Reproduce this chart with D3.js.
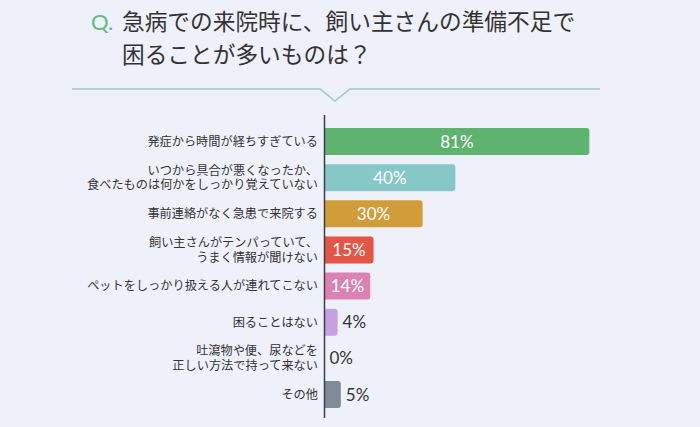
<!DOCTYPE html>
<html><head><meta charset="utf-8">
<script src="https://cdn.jsdelivr.net/npm/d3@7"></script>
<style>
html,body{margin:0;padding:0;background:#eef1f9;}
svg{display:block;}
</style></head>
<body>
<svg id="c" width="700" height="427"></svg>
<script>
const titleLines = ["急病での来院時に、飼い主さんの準備不足で", "困ることが多いものは？"];
const categories = [
  ["発症から時間が経ちすぎている"],
  ["いつから具合が悪くなったか、", "食べたものは何かをしっかり覚えていない"],
  ["事前連絡がなく急患で来院する"],
  ["飼い主さんがテンパっていて、", "うまく情報が聞けない"],
  ["ペットをしっかり扱える人が連れてこない"],
  ["困ることはない"],
  ["吐瀉物や便、尿などを", "正しい方法で持って来ない"],
  ["その他"]
];
const values = [81, 40, 30, 15, 14, 4, 0, 5];
const colors = ["#5eb46f", "#86c7c7", "#d19d3a", "#e35645", "#dc82b2", "#c6a0e1", "#7f8b97", "#7f8b97"];

const svg = d3.select("#c");
const font = "'Noto Sans CJK JP', 'Noto Sans', sans-serif";

// Title
svg.append("text").attr("x", 91).attr("y", 30).attr("font-family", "Lato, sans-serif")
  .attr("font-size", 22).attr("fill", "#62b883").text("Q.");
const title = svg.append("text").attr("x", 122).attr("y", 30).attr("font-family", font)
  .attr("font-size", 22.7).attr("fill", "#333");
titleLines.forEach((t, i) => {
  title.append("tspan").attr("x", 122).attr("y", 30 + i * 33).text(t);
});
// Divider with notch
svg.append("path")
  .attr("d", "M72,89 L320,89 L335,101 L350,89 L600,89")
  .attr("fill", "none").attr("stroke", "#9ccbb6").attr("stroke-width", 1.5);

const x0 = 324.5;
const x = d3.scaleLinear().domain([0, 100]).range([x0, x0 + 327]);
const y = d3.scaleBand().domain(d3.range(categories.length)).range([120.8, 415.2]).paddingInner(0.253).paddingOuter(0.2);

const g = svg.append("g");
const r = 3;
values.forEach((v, i) => {
  const w = x(v) - x0;
  const y0 = y(i), h = y.bandwidth();
  if (w > 0) {
    const rr = Math.min(r, w);
    g.append("path")
      .attr("d", `M${x0},${y0} H${x0 + w - rr} Q${x0 + w},${y0} ${x0 + w},${y0 + rr} V${y0 + h - rr} Q${x0 + w},${y0 + h} ${x0 + w - rr},${y0 + h} H${x0} Z`)
      .attr("fill", colors[i]);
  }
  const inside = v >= 10;
  g.append("text")
    .attr("x", inside ? x0 + w / 2 : x(v) + 5)
    .attr("y", y0 + h / 2)
    .attr("dy", "0.36em")
    .attr("text-anchor", inside ? "middle" : "start")
    .attr("font-family", "Lato, sans-serif")
    .attr("font-size", 17)
    .attr("fill", inside ? "#fff" : "#333")
    .text(v + "%");
  const lines = categories[i];
  const lh = 14.5;
  const lab = g.append("text")
    .attr("text-anchor", "end")
    .attr("font-family", font)
    .attr("font-size", 12.2)
    .attr("fill", "#333");
  lines.forEach((t, j) => {
    lab.append("tspan")
      .attr("x", 318)
      .attr("y", y0 + h / 2 + (j - (lines.length - 1) / 2) * lh)
      .attr("dy", "0.36em")
      .text(t);
  });
});

// axis line
svg.append("line").attr("x1", x0).attr("x2", x0).attr("y1", 115).attr("y2", 418)
  .attr("stroke", "#3a3f4a").attr("stroke-width", 1.5);
</script>
</body></html>
